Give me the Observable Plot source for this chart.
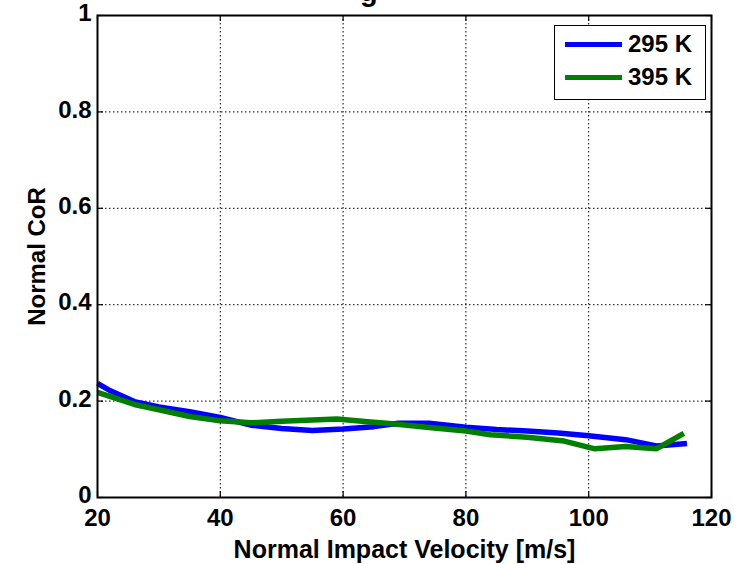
<!DOCTYPE html>
<html>
<head>
<meta charset="utf-8">
<script src="https://cdn.jsdelivr.net/npm/d3@7"></script>
<script src="https://cdn.jsdelivr.net/npm/@observablehq/plot@0.6"></script>
<style>
  html, body { margin: 0; padding: 0; background: #fff; }
  #wrap { position: relative; width: 747px; height: 564px; overflow: hidden; font-family: "Liberation Sans", Arial, sans-serif; }
  #title { position: absolute; left: 360px; top: -25px; font-size: 29px; font-weight: bold; line-height: normal; color: #000; white-space: nowrap; }
  #legend { position: absolute; left: 554px; top: 25px; width: 152px; height: 75px; border: 1.5px solid #000; background: #fff; box-sizing: border-box; }
  .item { position: absolute; left: 0; }
  .swatch { position: absolute; left: 10px; width: 57px; height: 5px; top: -2.5px; }
  .lab { position: absolute; left: 73px; font-size: 24px; font-weight: bold; white-space: nowrap; line-height: 24px; top: -12px; }
</style>
</head>
<body>
<div id="wrap">
  <div id="chart"></div>
  <div id="title">g</div>
  <div id="legend"></div>
</div>
<script>
// Data
const seriesNames = ["295 K", "395 K"];
const seriesColors = ["#0000ff", "#008000"];

const vel295 = [20, 22, 26, 30, 35, 40, 45, 50, 55, 60, 65, 69, 74, 80, 85, 90, 95, 100, 106, 111, 116];
const cor295 = [0.237, 0.222, 0.199, 0.188, 0.178, 0.166, 0.150, 0.143, 0.139, 0.142, 0.147, 0.154, 0.154, 0.146, 0.141, 0.138, 0.134, 0.128, 0.120, 0.107, 0.112];

const vel395 = [20, 22, 26, 30, 35, 40, 45, 50, 55, 59, 64, 68, 74, 80, 84, 90, 96, 101, 106, 111, 115.5];
const cor395 = [0.218, 0.210, 0.193, 0.182, 0.168, 0.159, 0.155, 0.158, 0.161, 0.163, 0.157, 0.153, 0.145, 0.138, 0.130, 0.125, 0.117, 0.101, 0.106, 0.101, 0.133];

const xTicks = [20, 40, 60, 80, 100, 120];
const yTicks = [0, 0.2, 0.4, 0.6, 0.8, 1];
const xLabel = "Normal Impact Velocity [m/s]";
const yLabel = "Normal CoR";

const rows = [
  ...vel295.map((v, i) => ({series: seriesNames[0], v, cor: cor295[i]})),
  ...vel395.map((v, i) => ({series: seriesNames[1], v, cor: cor395[i]}))
];

const innerX = xTicks.slice(1, -1);
const innerY = yTicks.slice(1, -1);

const chart = Plot.plot({
  width: 747,
  height: 564,
  marginLeft: 97,
  marginRight: 36,
  marginTop: 15,
  marginBottom: 67,
  style: {fontFamily: '"Liberation Sans", Arial, sans-serif', fontSize: "24px", fontWeight: "bold", color: "#000", background: "#fff"},
  x: {domain: [20, 120]},
  y: {domain: [0, 1]},
  color: {domain: seriesNames, range: seriesColors},
  marks: [
    Plot.ruleX(innerX, {x: d => d, stroke: "#000", strokeWidth: 1, strokeDasharray: "1.5,2.5"}),
    Plot.ruleY(innerY, {y: d => d, stroke: "#000", strokeWidth: 1, strokeDasharray: "1.5,2.5"}),
    // inward ticks (MATLAB style)
    Plot.ruleX(xTicks, {x: d => d, y1: 0, y2: 0, insetBottom: 6, stroke: "#000", strokeWidth: 1.2}),
    Plot.ruleX(xTicks, {x: d => d, y1: 1, y2: 1, insetTop: 6, stroke: "#000", strokeWidth: 1.2}),
    Plot.ruleY(yTicks, {y: d => d, x1: 20, x2: 20, insetRight: -6, stroke: "#000", strokeWidth: 1.2}),
    Plot.ruleY(yTicks, {y: d => d, x1: 120, x2: 120, insetLeft: -6, stroke: "#000", strokeWidth: 1.2}),
    Plot.line(rows, {x: "v", y: "cor", z: "series", stroke: "series", strokeWidth: 5.5, strokeLinejoin: "round", strokeLinecap: "butt"}),
    Plot.frame({stroke: "#000", strokeWidth: 2}),
    Plot.axisX(xTicks, {tickSize: 0, tickPadding: 11, label: null, fontSize: 24, fontWeight: "bold"}),
    Plot.axisY(yTicks, {tickSize: 0, tickPadding: 6, dy: -2, label: null, tickFormat: d => String(d), fontSize: 24, fontWeight: "bold"}),
    Plot.text([xLabel], {frameAnchor: "bottom", dy: 52, lineAnchor: "middle", fontSize: 25, fontWeight: "bold", text: d => d}),
    Plot.text([yLabel], {frameAnchor: "left", dx: -60, rotate: -90, textAnchor: "middle", lineAnchor: "middle", fontSize: 24, fontWeight: "bold", text: d => d})
  ]
});
document.getElementById("chart").appendChild(chart);

// legend built from the series arrays
const legend = document.getElementById("legend");
seriesNames.forEach((name, i) => {
  const item = document.createElement("div");
  item.className = "item";
  item.style.top = (i === 0 ? 18 : 51) + "px";
  item.innerHTML = `<div class="swatch" style="background:${seriesColors[i]}"></div><div class="lab">${name}</div>`;
  legend.appendChild(item);
});
</script>
</body>
</html>
